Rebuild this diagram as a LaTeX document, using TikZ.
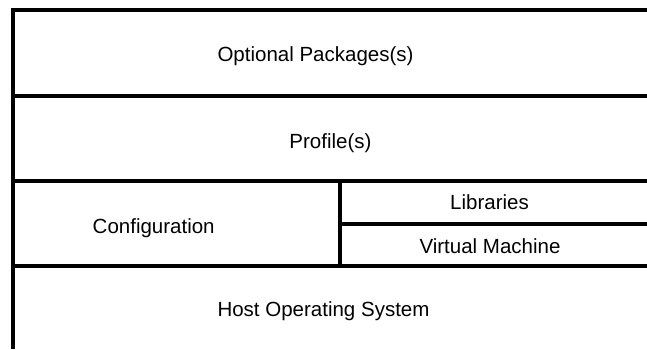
\documentclass[tikz,border=0pt]{standalone}
\usepackage{fontspec}
\setmainfont{Liberation Sans}
\usepackage{tikz}
\tikzset{layer/.style={line width=4pt, color=black}, layertext/.style={anchor=base, font=\fontsize{20.5}{24}\selectfont}}

\begin{document}
\begin{tikzpicture}[x=1pt, y=-1pt]
			%%%%% START %%%%%
			\useasboundingbox (0, 0) rectangle (647, 349);
			
			\draw[layer] (647, 10) -- (13, 10) -- (13, 349);
			\draw[layer] (13, 96) -- (647, 96);
			\draw[layer] (13, 181) -- (647, 181);
			\draw[layer] (340, 181) -- (340, 266);
			\draw[layer] (340, 223.5) -- (647, 223.5);
			\draw[layer] (13, 266) -- (647, 266);
			
			\node[layertext] (optional) at (315.5, 61) {Optional Packages(s)};
			\node[layertext] (profile) at (330.5, 148.3) {Profile(s)};
			\node[layertext] (config) at (153.7, 233.3) {Configuration};
			\node[layertext] (libs) at (489.5, 209.3) {Libraries};
			\node[layertext] (vm) at (490, 253.3) {Virtual Machine};
			\node[layertext] (hostos) at (323.5, 316.7) {Host Operating System};
			%%%%% END %%%%%
\end{tikzpicture}
\end{document}
